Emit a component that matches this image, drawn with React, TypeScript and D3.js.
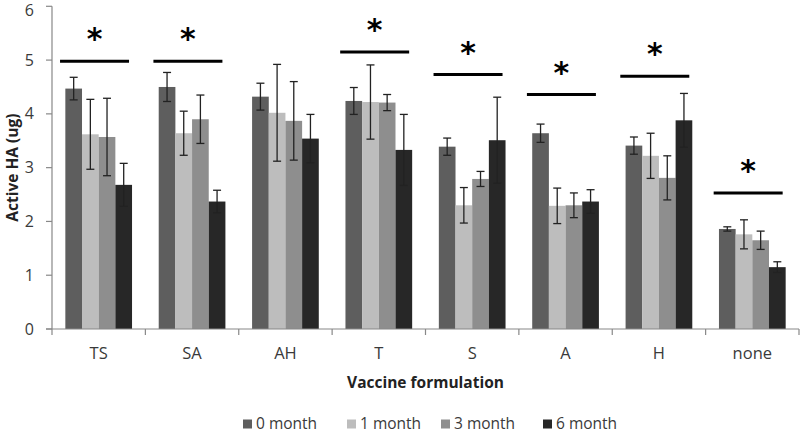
import React from "react";
import * as d3 from "d3";

const categories = ["TS", "SA", "AH", "T", "S", "A", "H", "none"];
const seriesNames = ["0 month", "1 month", "3 month", "6 month"];
const seriesColors = ["#5e5e5e", "#bdbdbd", "#8e8e8e", "#272727"];

const month0 = [4.47, 4.5, 4.32, 4.24, 3.39, 3.64, 3.41, 1.86];
const month1 = [3.62, 3.64, 4.02, 4.22, 2.3, 2.29, 3.22, 1.76];
const month3 = [3.57, 3.9, 3.87, 4.21, 2.79, 2.3, 2.81, 1.65];
const month6 = [2.68, 2.37, 3.54, 3.33, 3.51, 2.37, 3.88, 1.15];

const err0 = [0.21, 0.27, 0.25, 0.25, 0.16, 0.17, 0.16, 0.04];
const err1 = [0.65, 0.41, 0.9, 0.69, 0.33, 0.33, 0.42, 0.27];
const err3 = [0.72, 0.45, 0.73, 0.15, 0.14, 0.23, 0.41, 0.17];
const err6 = [0.4, 0.21, 0.45, 0.66, 0.8, 0.22, 0.5, 0.1];

// significance bar levels (null = none)
const sigLevels: (number | null)[] = [4.98, 4.98, null, 5.15, 4.73, 4.36, 4.7, 2.53];

const yTicks = [0, 1, 2, 3, 4, 5, 6];

const values = [month0, month1, month3, month6];
const errors = [err0, err1, err3, err6];

export default function App() {
  const W = 800;
  const H = 433;
  const left = 52;
  const right = 799;
  const top = 6.3;
  const bottom = 329;

  const x = d3.scaleBand<string>().domain(categories).range([left, right]).padding(0);
  const xi = d3
    .scaleBand<string>()
    .domain(seriesNames)
    .range([0, x.bandwidth()])
    .paddingInner(0)
    .paddingOuter(0.8);
  const y = d3.scaleLinear().domain([0, 6]).range([bottom, top]);

  const axisColor = "#888888";
  const textColor = "#3a3a3a";
  const font = "'Open Sans', sans-serif";

  const boundaries = categories.map((c) => x(c)!).concat([right]);

  const legendX = [243, 347, 441, 543];

  return (
    <svg width={W} height={H} style={{ position: "absolute", left: 0, top: 0, background: "#fff" }}>
      {/* bars */}
      {categories.map((c, ci) =>
        seriesNames.map((s, si) => {
          const v = values[si][ci];
          const bx = x(c)! + xi(s)!;
          const bw = xi.bandwidth();
          return (
            <rect key={c + s} x={bx} y={y(v)} width={bw} height={y(0) - y(v)} fill={seriesColors[si]} />
          );
        })
      )}
      {/* error bars */}
      {categories.map((c, ci) =>
        seriesNames.map((s, si) => {
          const v = values[si][ci];
          const e = errors[si][ci];
          const cx = x(c)! + xi(s)! + xi.bandwidth() / 2;
          return (
            <g key={"e" + c + s} stroke="#222" strokeWidth={1.3}>
              <line x1={cx} x2={cx} y1={y(v + e)} y2={y(v - e)} />
              <line x1={cx - 4} x2={cx + 4} y1={y(v + e)} y2={y(v + e)} />
              <line x1={cx - 4} x2={cx + 4} y1={y(v - e)} y2={y(v - e)} />
            </g>
          );
        })
      )}
      {/* axes */}
      <line x1={left} x2={left} y1={top} y2={bottom} stroke={axisColor} strokeWidth={1.2} />
      <line x1={left - 6} x2={right} y1={bottom} y2={bottom} stroke={axisColor} strokeWidth={1.2} />
      {yTicks.map((t) => (
        <g key={"yt" + t}>
          <line x1={left - 6} x2={left} y1={y(t)} y2={y(t)} stroke={axisColor} strokeWidth={1.2} />
          <text
            x={left - 18}
            y={Math.max(y(t), 10)}
            dy="0.35em"
            textAnchor="end"
            fontSize={16}
            fontFamily={font}
            fill={textColor}
          >
            {t}
          </text>
        </g>
      ))}
      {boundaries.map((bx, i) => (
        <line key={"xt" + i} x1={bx} x2={bx} y1={bottom} y2={bottom + 6} stroke={axisColor} strokeWidth={1.2} />
      ))}
      {categories.map((c) => (
        <text
          key={"xl" + c}
          x={x(c)! + x.bandwidth() / 2}
          y={353}
          dy="0.35em"
          textAnchor="middle"
          fontSize={16.5}
          fontFamily={font}
          fill={textColor}
        >
          {c}
        </text>
      ))}
      {/* significance */}
      {categories.map((c, ci) => {
        const lv = sigLevels[ci];
        if (lv === null) return null;
        const gx0 = x(c)! + xi(seriesNames[0])! - 5.3;
        const gx1 = x(c)! + xi(seriesNames[3])! + xi.bandwidth() - 3;
        const ly = y(lv);
        return (
          <g key={"s" + c}>
            <line x1={gx0} x2={gx1} y1={ly} y2={ly} stroke="#000" strokeWidth={3} />
            <text
              x={(gx0 + gx1) / 2}
              y={ly - 12}
              textAnchor="middle"
              fontSize={30}
              fontWeight="bold"
              fontFamily="'DejaVu Sans', sans-serif"
              fill="#000"
            >
              *
            </text>
          </g>
        );
      })}
      {/* axis titles */}
      <text
        x={(left + right) / 2}
        y={383}
        dy="0.35em"
        textAnchor="middle"
        fontSize={15.5}
        fontWeight="bold"
        fontFamily={font}
        fill="#222"
      >
        Vaccine formulation
      </text>
      <text
        transform={`translate(13, ${(top + bottom) / 2}) rotate(-90)`}
        textAnchor="middle"
        dy="0.35em"
        fontSize={15.5}
        fontWeight="bold"
        fontFamily={font}
        fill="#222"
      >
        Active HA (ug)
      </text>
      {/* legend */}
      {seriesNames.map((s, si) => (
        <g key={"lg" + s}>
          <rect x={legendX[si]} y={419.5} width={9} height={9} fill={seriesColors[si]} />
          <text
            x={legendX[si] + 13}
            y={428.5}
            fontSize={15.5}
            fontFamily={font}
            fill={textColor}
          >
            {s}
          </text>
        </g>
      ))}
    </svg>
  );
}
